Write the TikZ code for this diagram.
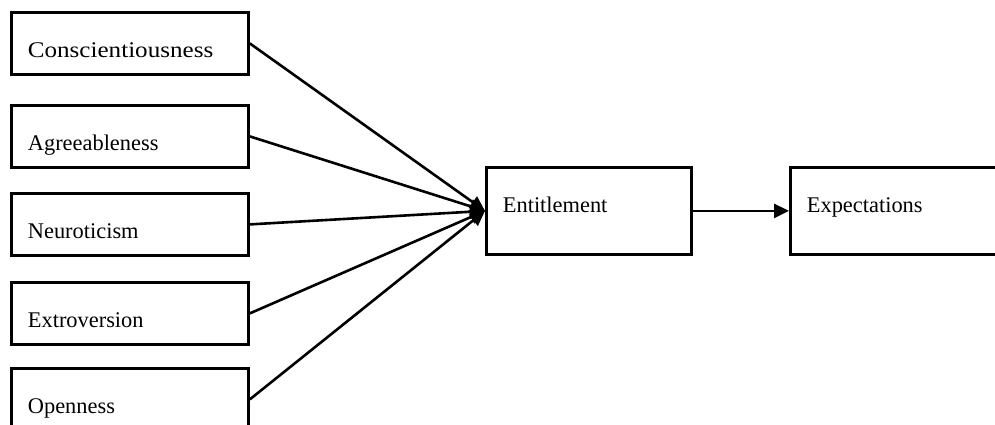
\documentclass[tikz,border=0pt]{standalone}
\usepackage{fontspec}
\setmainfont{Liberation Serif}
\usetikzlibrary{arrows.meta}
\begin{document}
\begin{tikzpicture}[x=1pt, y=-1pt,
  box/.style={draw, line width=2.8pt, inner xsep=16.5pt, inner ysep=0pt,
    anchor=north west, align=left, text height=45pt,
    font=\fontsize{22.4}{26}\selectfont},
  trait/.style={box, text width=204pt, text depth=17pt},
  outcome/.style={box, text depth=42pt},
  link/.style={line width=2.6pt, -{Triangle[length=15pt, width=14pt]}}]
\useasboundingbox (0,0) rectangle (995,425);
\clip (0,0) rectangle (995,425);
\fill[white] (0,0) rectangle (995,425);

% Personality traits
\node[trait] (con) at (10,11)  {\addfontfeature{FakeStretch=1.12}Conscientiousness};
\node[trait] (agr) at (10,104) {Agreeableness};
\node[trait] (neu) at (10,192) {Neuroticism};
\node[trait] (ext) at (10,281) {Extroversion};
\node[trait] (ope) at (10,367) {Openness};

% Mediator and outcome
\node[outcome, text width=172pt] (ent) at (485,166) {Entitlement};
\node[outcome, text width=203pt] (exp) at (789,166) {Expectations};

% Paths
\foreach \t in {con,agr,neu,ext,ope}
  \draw[link] (\t.east) -- (ent.west);
\draw[link] (ent.east) -- (exp.west);
\end{tikzpicture}
\end{document}
